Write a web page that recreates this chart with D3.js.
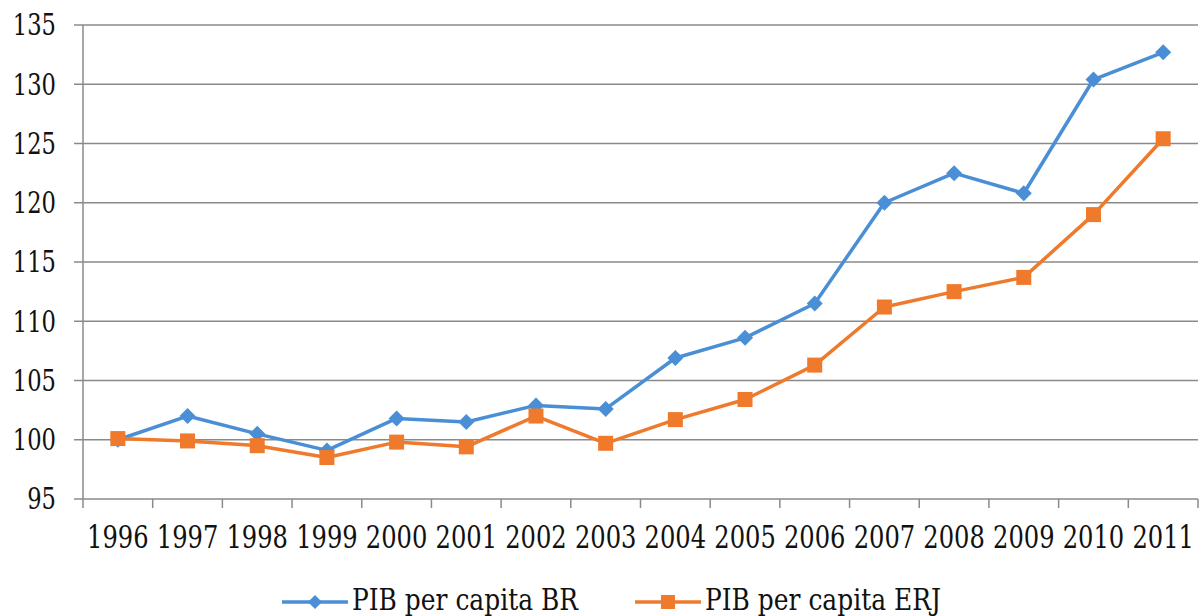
<!DOCTYPE html>
<html>
<head>
<meta charset="utf-8">
<script src="https://cdn.jsdelivr.net/npm/d3@7"></script>
<style>
  body { margin: 0; background: #fff; }
  svg { display: block; }
</style>
</head>
<body>
<div id="chart"></div>
<script>
// Years and series
var years = ["1996","1997","1998","1999","2000","2001","2002","2003","2004","2005","2006","2007","2008","2009","2010","2011"];
var pibBR  = [100, 102, 100.5, 99.1, 101.8, 101.5, 102.9, 102.6, 106.9, 108.6, 111.5, 120.0, 122.5, 120.8, 130.4, 132.7];
var pibERJ = [100.1, 99.9, 99.5, 98.5, 99.8, 99.4, 102.0, 99.7, 101.7, 103.4, 106.3, 111.2, 112.5, 113.7, 119.0, 125.4];
var yTicks = [95, 100, 105, 110, 115, 120, 125, 130, 135];
var seriesNames = ["PIB per capita BR", "PIB per capita ERJ"];

var BLUE = '#4a8fd6';
var ORANGE = '#ef7a2c';
var GRID = '#8a8a8a';
var FONT = "'DejaVu Serif', serif";

var width = 1201, height = 616;
var margin = { top: 25, right: 3, bottom: 117, left: 83 };

var svg = d3.select("#chart").append("svg")
  .attr("width", width)
  .attr("height", height)
  .attr("font-family", FONT);

var x = d3.scaleBand()
  .domain(years)
  .range([margin.left, width - margin.right]);

var y = d3.scaleLinear()
  .domain([95, 135])
  .range([height - margin.bottom, margin.top]);

// gridlines
svg.append("g")
  .selectAll("line")
  .data(yTicks)
  .enter()
  .append("line")
  .attr("x1", margin.left - 9)
  .attr("x2", width - margin.right)
  .attr("y1", function(d) { return y(d); })
  .attr("y2", function(d) { return y(d); })
  .style("stroke", GRID)
  .attr("stroke-width", 1.5);

// y axis line
svg.append("line")
  .attr("x1", margin.left).attr("x2", margin.left)
  .attr("y1", y(135)).attr("y2", y(95))
  .style("stroke", GRID)
  .attr("stroke-width", 1.5);

// x tick marks between categories
var bounds = years.map(function(d) { return x(d); }).concat([x.range()[1]]);
svg.append("g")
  .selectAll("line")
  .data(bounds)
  .enter()
  .append("line")
  .attr("x1", function(d) { return d; })
  .attr("x2", function(d) { return d; })
  .attr("y1", y(95))
  .attr("y2", y(95) + 9)
  .style("stroke", GRID)
  .attr("stroke-width", 1.5);

// DejaVu Serif is wide, squeeze it to look like Times
var SQ = 0.78;

// y labels
svg.append("g")
  .selectAll("text")
  .data(yTicks)
  .enter()
  .append("text")
  .attr("transform", function(d) { return "translate(56," + y(d) + ") scale(" + SQ + ",1)"; })
  .attr("dy", "0.36em")
  .attr("text-anchor", "end")
  .attr("font-size", "29px")
  .style("fill", "#111")
  .text(function(d) { return d; });

// x labels
svg.append("g")
  .selectAll("text")
  .data(years)
  .enter()
  .append("text")
  .attr("transform", function(d) { return "translate(" + (x(d) + x.bandwidth() / 2) + ",548) scale(" + SQ + ",1)"; })
  .attr("text-anchor", "middle")
  .attr("font-size", "31px")
  .style("fill", "#111")
  .text(function(d) { return d; });

var line = d3.line()
  .x(function(d, i) { return x(years[i]) + x.bandwidth() / 2; })
  .y(function(d) { return y(d); });

function diamond(g, cx, cy, r, color) {
  g.append("path")
    .attr("d", "M" + cx + "," + (cy - r) + "L" + (cx + r) + "," + cy + "L" + cx + "," + (cy + r) + "L" + (cx - r) + "," + cy + "Z")
    .attr("fill", color);
}

function square(g, cx, cy, s, color) {
  g.append("rect")
    .attr("x", cx - s / 2).attr("y", cy - s / 2)
    .attr("width", s).attr("height", s)
    .attr("fill", color);
}

function drawSeries(values, color, marker) {
  var g = svg.append("g");
  g.append("path")
    .datum(values)
    .attr("d", line)
    .attr("fill", "none")
    .attr("stroke", color)
    .attr("stroke-width", 3.5)
    .attr("stroke-linejoin", "round");
  values.forEach(function(v, i) {
    var cx = x(years[i]) + x.bandwidth() / 2;
    if (marker === 'diamond') diamond(g, cx, y(v), 8, color);
    else square(g, cx, y(v), 15, color);
  });
}

drawSeries(pibBR, BLUE, 'diamond');
drawSeries(pibERJ, ORANGE, 'square');

// legend
var legendY = 602;
var legend = [
  { name: seriesNames[0], color: BLUE, marker: 'diamond', x0: 282 },
  { name: seriesNames[1], color: ORANGE, marker: 'square', x0: 635 }
];
legend.forEach(function(l) {
  var g = svg.append("g");
  g.append("line")
    .attr("x1", l.x0).attr("x2", l.x0 + 66)
    .attr("y1", legendY).attr("y2", legendY)
    .attr("stroke", l.color)
    .attr("stroke-width", 3.5);
  if (l.marker === 'diamond') diamond(g, l.x0 + 33, legendY, 7, l.color);
  else square(g, l.x0 + 33, legendY, 14, l.color);
  g.append("text")
    .attr("transform", "translate(" + (l.x0 + 70) + ",610) scale(0.86,1)")
    .attr("font-size", "29px")
    .style("fill", "#111")
    .text(l.name);
});
</script>
</body>
</html>
